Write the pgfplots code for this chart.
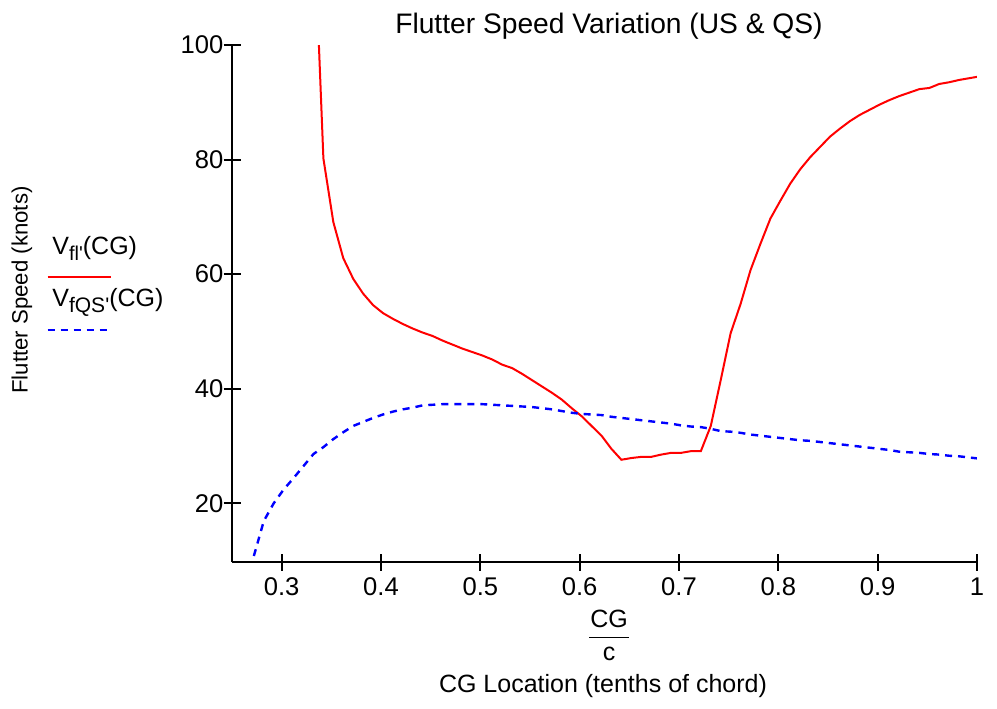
\documentclass[border=0pt]{standalone}
\usepackage{fontspec}
\setmainfont{Liberation Sans}
\usepackage{pgfplots}
\pgfplotsset{compat=1.18}
\begin{document}
\begin{tikzpicture}[x=1pt,y=1pt]
\path[use as bounding box] (0,0) rectangle (498.5,354);
\begin{axis}[
  at={(116pt,73pt)}, anchor=south west,
  scale only axis, width=372.5pt, height=258.5pt,
  xmin=0.25, xmax=1, ymin=9.75, ymax=100,
  axis x line*=bottom, axis y line*=left,
  axis line style={line width=1pt, -, black},
  xtick={0.3,0.4,0.5,0.6,0.7,0.8,0.9,1},
  xticklabels={0.3,0.4,0.5,0.6,0.7,0.8,0.9,1},
  ytick={20,40,60,80,100},
  yticklabels={20,40,60,80,100},
  tick align=center, major tick length=8.5pt,
  tick style={line width=1pt, black},
  ticklabel style={font=\fontsize{12.8}{14}\selectfont},
  yticklabel style={xshift=3.5pt},
  /pgf/number format/assume math mode=true,
  clip=true,
]
\addplot[red, line width=1pt] coordinates {
(0.332,124) (0.342,80.2) (0.352,69.1) (0.362,62.8) (0.372,59.2) (0.382,56.6)
(0.392,54.6) (0.402,53.2) (0.412,52.2) (0.422,51.3) (0.432,50.5) (0.442,49.8)
(0.452,49.2) (0.462,48.4) (0.472,47.7) (0.482,47.0) (0.492,46.4) (0.502,45.8)
(0.512,45.1) (0.522,44.2) (0.532,43.6) (0.542,42.6) (0.552,41.5) (0.562,40.4)
(0.572,39.3) (0.582,38.1) (0.592,36.6) (0.602,35.2) (0.612,33.5) (0.622,31.8)
(0.632,29.5) (0.642,27.6) (0.652,27.9) (0.662,28.1) (0.672,28.1) (0.682,28.5)
(0.692,28.8) (0.702,28.8) (0.712,29.1) (0.722,29.1) (0.732,33.5) (0.742,41.5)
(0.752,49.7) (0.762,54.8) (0.772,60.7) (0.782,65.3) (0.792,69.7) (0.802,72.8)
(0.812,75.8) (0.822,78.3) (0.832,80.4) (0.842,82.2) (0.852,84.0) (0.862,85.4)
(0.872,86.7) (0.882,87.8) (0.892,88.7) (0.902,89.6) (0.912,90.4) (0.922,91.1)
(0.932,91.7) (0.942,92.3) (0.952,92.5) (0.962,93.2) (0.972,93.5) (0.982,93.9)
(0.992,94.2) (1.002,94.5)
};
\addplot[blue, line width=1.2pt, dash pattern=on 3.5pt off 3pt] coordinates {
(0.272,10.8) (0.282,16.9) (0.292,20.0) (0.302,22.4) (0.312,24.4) (0.322,26.5)
(0.332,28.6) (0.342,29.8) (0.352,31.2) (0.362,32.4) (0.372,33.5) (0.382,34.2)
(0.392,34.9) (0.402,35.5) (0.412,36.0) (0.422,36.4) (0.432,36.7) (0.442,37.1)
(0.452,37.2) (0.462,37.3) (0.472,37.3) (0.482,37.3) (0.492,37.3) (0.502,37.3)
(0.512,37.2) (0.522,37.1) (0.532,37.0) (0.542,36.9) (0.552,36.8) (0.562,36.6)
(0.572,36.4) (0.582,36.1) (0.592,35.8) (0.602,35.6) (0.612,35.5) (0.622,35.4)
(0.632,35.1) (0.642,34.9) (0.652,34.7) (0.662,34.5) (0.672,34.3) (0.682,34.1)
(0.692,33.9) (0.702,33.6) (0.712,33.4) (0.722,33.3) (0.732,33.0) (0.742,32.6)
(0.752,32.5) (0.762,32.3) (0.772,32.0) (0.782,31.8) (0.792,31.6) (0.802,31.4)
(0.812,31.2) (0.822,31.0) (0.832,30.9) (0.842,30.7) (0.852,30.5) (0.862,30.3)
(0.872,30.1) (0.882,29.9) (0.892,29.7) (0.902,29.5) (0.912,29.3) (0.922,29.0)
(0.932,28.9) (0.942,28.8) (0.952,28.6) (0.962,28.5) (0.972,28.3) (0.982,28.2)
(0.992,28.0) (1.002,27.8)
};
\end{axis}
% title
\node[anchor=base, inner sep=0, font=\fontsize{14.1}{16}\selectfont] at (304.5,337) {Flutter Speed Variation (US \& QS)};
% y label
\node[rotate=90, anchor=center, inner sep=0, font=\fontsize{11.1}{14}\selectfont] at (11,209) {Flutter Speed (knots)};
% legend
\node[anchor=base west, inner sep=0, font=\fontsize{12.5}{14}\selectfont] at (26,226.5) {V\raisebox{-0.45ex}{\fontsize{10}{11}\selectfont fl\textquotesingle}(CG)};
\draw[red, line width=1pt] (23.8,215.3) -- (55.3,215.3);
\node[anchor=base west, inner sep=0, font=\fontsize{12.5}{14}\selectfont] at (26,200.5) {V\raisebox{-0.45ex}{\fontsize{10.5}{11}\selectfont fQS\textquotesingle}(CG)};
\draw[blue, line width=1.2pt, dash pattern=on 3.5pt off 3pt] (23.8,189) -- (53.5,189);
% x label
\node[anchor=base, inner sep=0, font=\fontsize{12.5}{14}\selectfont] at (304.5,40.3) {CG};
\draw[black, line width=0.6pt] (294.5,35.3) -- (314.7,35.3);
\node[anchor=base, inner sep=0, font=\fontsize{12.5}{14}\selectfont] at (304.6,24) {c};
\node[anchor=base, inner sep=0, font=\fontsize{12.5}{14}\selectfont] at (301.5,8) {CG Location (tenths of chord)};
\end{tikzpicture}
\end{document}
